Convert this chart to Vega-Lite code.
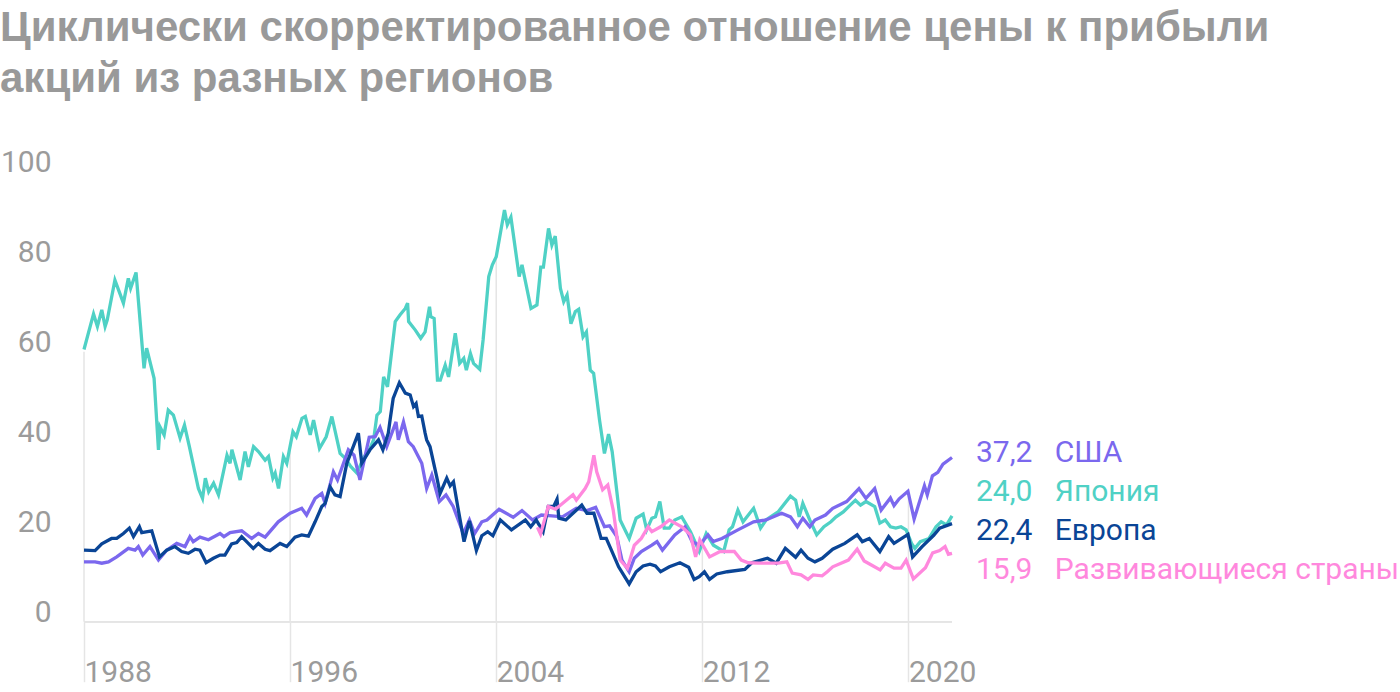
{
  "$schema": "https://vega.github.io/schema/vega-lite/v6.json",
  "width": 868,
  "height": 450,
  "autosize": "none",
  "padding": {"left": 84, "top": 171.7, "right": 448, "bottom": 70.3},
  "background": "white",
  "title": {
    "text": ["Циклически скорректированное отношение цены к прибыли", "акций из разных регионов"],
    "anchor": "start",
    "frame": "group",
    "dx": -84,
    "offset": 47,
    "font": "Liberation Sans",
    "fontSize": 42,
    "fontWeight": "bold",
    "color": "#999999",
    "lineHeight": 51
  },
  "config": {"view": {"stroke": null}},
  "data": {"values": [
    {"series": "Япония", "year": 1988.0, "value": 60.5},
    {"series": "Япония", "year": 1988.37, "value": 68.4},
    {"series": "Япония", "year": 1988.52, "value": 65.6},
    {"series": "Япония", "year": 1988.69, "value": 69.3},
    {"series": "Япония", "year": 1988.82, "value": 65.6},
    {"series": "Япония", "year": 1988.9, "value": 67},
    {"series": "Япония", "year": 1989.2, "value": 75.9},
    {"series": "Япония", "year": 1989.53, "value": 70.8},
    {"series": "Япония", "year": 1989.72, "value": 76.3},
    {"series": "Япония", "year": 1989.81, "value": 74.1},
    {"series": "Япония", "year": 1990.02, "value": 77.6},
    {"series": "Япония", "year": 1990.33, "value": 56.3},
    {"series": "Япония", "year": 1990.43, "value": 60.8},
    {"series": "Япония", "year": 1990.72, "value": 54.1},
    {"series": "Япония", "year": 1990.89, "value": 38.2},
    {"series": "Япония", "year": 1990.95, "value": 43.3},
    {"series": "Япония", "year": 1991.11, "value": 41.5},
    {"series": "Япония", "year": 1991.27, "value": 47},
    {"series": "Япония", "year": 1991.47, "value": 45.9},
    {"series": "Япония", "year": 1991.73, "value": 40.8},
    {"series": "Япония", "year": 1991.9, "value": 43.7},
    {"series": "Япония", "year": 1992.09, "value": 38.9},
    {"series": "Япония", "year": 1992.44, "value": 29.6},
    {"series": "Япония", "year": 1992.6, "value": 27.4},
    {"series": "Япония", "year": 1992.71, "value": 31.9},
    {"series": "Япония", "year": 1992.84, "value": 28.9},
    {"series": "Япония", "year": 1993.03, "value": 30.8},
    {"series": "Япония", "year": 1993.22, "value": 28.2},
    {"series": "Япония", "year": 1993.55, "value": 37},
    {"series": "Япония", "year": 1993.67, "value": 35.2},
    {"series": "Япония", "year": 1993.74, "value": 38.2},
    {"series": "Япония", "year": 1994.06, "value": 31.5},
    {"series": "Япония", "year": 1994.25, "value": 37.8},
    {"series": "Япония", "year": 1994.38, "value": 34.4},
    {"series": "Япония", "year": 1994.58, "value": 38.9},
    {"series": "Япония", "year": 1994.77, "value": 37.8},
    {"series": "Япония", "year": 1995.03, "value": 35.9},
    {"series": "Япония", "year": 1995.16, "value": 36.7},
    {"series": "Япония", "year": 1995.33, "value": 31.9},
    {"series": "Япония", "year": 1995.42, "value": 33},
    {"series": "Япония", "year": 1995.55, "value": 29.6},
    {"series": "Япония", "year": 1995.74, "value": 36.7},
    {"series": "Япония", "year": 1995.87, "value": 35.2},
    {"series": "Япония", "year": 1996.11, "value": 42.2},
    {"series": "Япония", "year": 1996.24, "value": 41.1},
    {"series": "Япония", "year": 1996.46, "value": 45.2},
    {"series": "Япония", "year": 1996.59, "value": 45.6},
    {"series": "Япония", "year": 1996.78, "value": 41.5},
    {"series": "Япония", "year": 1996.91, "value": 44.8},
    {"series": "Япония", "year": 1997.14, "value": 38.5},
    {"series": "Япония", "year": 1997.4, "value": 41.1},
    {"series": "Япония", "year": 1997.62, "value": 45.6},
    {"series": "Япония", "year": 1997.94, "value": 37.4},
    {"series": "Япония", "year": 1998.14, "value": 36.3},
    {"series": "Япония", "year": 1998.35, "value": 34.5},
    {"series": "Япония", "year": 1998.6, "value": 33},
    {"series": "Япония", "year": 1998.85, "value": 36.5},
    {"series": "Япония", "year": 1999.1, "value": 38.5},
    {"series": "Япония", "year": 1999.24, "value": 40.4},
    {"series": "Япония", "year": 1999.37, "value": 45.9},
    {"series": "Япония", "year": 1999.5, "value": 46.7},
    {"series": "Япония", "year": 1999.63, "value": 54.4},
    {"series": "Япония", "year": 1999.78, "value": 52.2},
    {"series": "Япония", "year": 2000.08, "value": 66.7},
    {"series": "Япония", "year": 2000.27, "value": 68.2},
    {"series": "Япония", "year": 2000.47, "value": 69.6},
    {"series": "Япония", "year": 2000.56, "value": 70.8},
    {"series": "Япония", "year": 2000.6, "value": 66.7},
    {"series": "Япония", "year": 2000.86, "value": 64.8},
    {"series": "Япония", "year": 2001.07, "value": 63},
    {"series": "Япония", "year": 2001.24, "value": 64.4},
    {"series": "Япония", "year": 2001.41, "value": 70},
    {"series": "Япония", "year": 2001.46, "value": 67.8},
    {"series": "Япония", "year": 2001.59, "value": 67.4},
    {"series": "Япония", "year": 2001.72, "value": 53.7},
    {"series": "Япония", "year": 2001.83, "value": 53.7},
    {"series": "Япония", "year": 2002.02, "value": 57},
    {"series": "Япония", "year": 2002.15, "value": 54.4},
    {"series": "Япония", "year": 2002.41, "value": 64.1},
    {"series": "Япония", "year": 2002.58, "value": 57.4},
    {"series": "Япония", "year": 2002.74, "value": 58.5},
    {"series": "Япония", "year": 2002.84, "value": 55.9},
    {"series": "Япония", "year": 2003.0, "value": 59.6},
    {"series": "Япония", "year": 2003.12, "value": 57.4},
    {"series": "Япония", "year": 2003.36, "value": 56.1},
    {"series": "Япония", "year": 2003.49, "value": 62.6},
    {"series": "Япония", "year": 2003.71, "value": 76.7},
    {"series": "Япония", "year": 2003.85, "value": 79.3},
    {"series": "Япония", "year": 2004.0, "value": 81.1},
    {"series": "Япония", "year": 2004.32, "value": 91.5},
    {"series": "Япония", "year": 2004.43, "value": 88.2},
    {"series": "Япония", "year": 2004.57, "value": 89.9},
    {"series": "Япония", "year": 2004.89, "value": 76.7},
    {"series": "Япония", "year": 2005.0, "value": 79.3},
    {"series": "Япония", "year": 2005.35, "value": 69.6},
    {"series": "Япония", "year": 2005.58, "value": 70.4},
    {"series": "Япония", "year": 2005.73, "value": 78.8},
    {"series": "Япония", "year": 2005.83, "value": 78.8},
    {"series": "Япония", "year": 2006.03, "value": 87.4},
    {"series": "Япония", "year": 2006.16, "value": 83.7},
    {"series": "Япония", "year": 2006.29, "value": 85.7},
    {"series": "Япония", "year": 2006.49, "value": 74.1},
    {"series": "Япония", "year": 2006.62, "value": 71.1},
    {"series": "Япония", "year": 2006.75, "value": 72.6},
    {"series": "Япония", "year": 2006.9, "value": 66.2},
    {"series": "Япония", "year": 2007.07, "value": 68.9},
    {"series": "Япония", "year": 2007.2, "value": 69.4},
    {"series": "Япония", "year": 2007.37, "value": 63.3},
    {"series": "Япония", "year": 2007.5, "value": 64.4},
    {"series": "Япония", "year": 2007.65, "value": 55.9},
    {"series": "Япония", "year": 2007.78, "value": 55.2},
    {"series": "Япония", "year": 2008.01, "value": 44.8},
    {"series": "Япония", "year": 2008.2, "value": 37.4},
    {"series": "Япония", "year": 2008.36, "value": 41.7},
    {"series": "Япония", "year": 2008.5, "value": 37.8},
    {"series": "Япония", "year": 2008.81, "value": 22.6},
    {"series": "Япония", "year": 2009.16, "value": 18.5},
    {"series": "Япония", "year": 2009.43, "value": 23},
    {"series": "Япония", "year": 2009.7, "value": 23.9},
    {"series": "Япония", "year": 2009.84, "value": 20.4},
    {"series": "Япония", "year": 2010.04, "value": 23},
    {"series": "Япония", "year": 2010.18, "value": 23.3},
    {"series": "Япония", "year": 2010.35, "value": 26.7},
    {"series": "Япония", "year": 2010.52, "value": 20.8},
    {"series": "Япония", "year": 2010.72, "value": 20.8},
    {"series": "Япония", "year": 2010.93, "value": 22.6},
    {"series": "Япония", "year": 2011.2, "value": 23.3},
    {"series": "Япония", "year": 2011.54, "value": 20},
    {"series": "Япония", "year": 2011.88, "value": 15.6},
    {"series": "Япония", "year": 2012.15, "value": 19.6},
    {"series": "Япония", "year": 2012.43, "value": 17},
    {"series": "Япония", "year": 2012.83, "value": 15.6},
    {"series": "Япония", "year": 2013.04, "value": 20.4},
    {"series": "Япония", "year": 2013.17, "value": 21.1},
    {"series": "Япония", "year": 2013.38, "value": 24.8},
    {"series": "Япония", "year": 2013.58, "value": 22.2},
    {"series": "Япония", "year": 2013.99, "value": 25.2},
    {"series": "Япония", "year": 2014.26, "value": 20.8},
    {"series": "Япония", "year": 2014.47, "value": 22.6},
    {"series": "Япония", "year": 2014.94, "value": 24.4},
    {"series": "Япония", "year": 2015.42, "value": 27.9},
    {"series": "Япония", "year": 2015.62, "value": 27},
    {"series": "Япония", "year": 2015.76, "value": 23.3},
    {"series": "Япония", "year": 2015.9, "value": 26.3},
    {"series": "Япония", "year": 2016.17, "value": 22.6},
    {"series": "Япония", "year": 2016.44, "value": 19.3},
    {"series": "Япония", "year": 2016.72, "value": 21.1},
    {"series": "Япония", "year": 2016.99, "value": 22.2},
    {"series": "Япония", "year": 2017.19, "value": 23.3},
    {"series": "Япония", "year": 2017.47, "value": 24.4},
    {"series": "Япония", "year": 2017.74, "value": 25.9},
    {"series": "Япония", "year": 2017.94, "value": 27},
    {"series": "Япония", "year": 2018.14, "value": 25.9},
    {"series": "Япония", "year": 2018.35, "value": 26.7},
    {"series": "Япония", "year": 2018.69, "value": 25.6},
    {"series": "Япония", "year": 2018.89, "value": 21.9},
    {"series": "Япония", "year": 2019.1, "value": 22.6},
    {"series": "Япония", "year": 2019.3, "value": 21.1},
    {"series": "Япония", "year": 2019.51, "value": 20.8},
    {"series": "Япония", "year": 2019.71, "value": 21.1},
    {"series": "Япония", "year": 2019.91, "value": 20.4},
    {"series": "Япония", "year": 2020.12, "value": 17.4},
    {"series": "Япония", "year": 2020.25, "value": 16.3},
    {"series": "Япония", "year": 2020.46, "value": 17.8},
    {"series": "Япония", "year": 2020.8, "value": 18.5},
    {"series": "Япония", "year": 2021.07, "value": 21.1},
    {"series": "Япония", "year": 2021.27, "value": 22.2},
    {"series": "Япония", "year": 2021.48, "value": 21.5},
    {"series": "Япония", "year": 2021.69, "value": 23.5},

    {"series": "США", "year": 1988.0, "value": 13.3},
    {"series": "США", "year": 1988.43, "value": 13.3},
    {"series": "США", "year": 1988.69, "value": 13},
    {"series": "США", "year": 1988.95, "value": 13.3},
    {"series": "США", "year": 1989.27, "value": 14.4},
    {"series": "США", "year": 1989.72, "value": 16.3},
    {"series": "США", "year": 1989.98, "value": 15.9},
    {"series": "США", "year": 1990.11, "value": 16.7},
    {"series": "США", "year": 1990.28, "value": 14.8},
    {"series": "США", "year": 1990.56, "value": 16.7},
    {"series": "США", "year": 1990.89, "value": 13.7},
    {"series": "США", "year": 1991.21, "value": 15.9},
    {"series": "США", "year": 1991.6, "value": 17.4},
    {"series": "США", "year": 1991.92, "value": 16.7},
    {"series": "США", "year": 1992.11, "value": 18.9},
    {"series": "США", "year": 1992.24, "value": 17.8},
    {"series": "США", "year": 1992.5, "value": 18.8},
    {"series": "США", "year": 1992.83, "value": 18.2},
    {"series": "США", "year": 1993.28, "value": 19.6},
    {"series": "США", "year": 1993.43, "value": 18.9},
    {"series": "США", "year": 1993.67, "value": 19.8},
    {"series": "США", "year": 1994.12, "value": 20.2},
    {"series": "США", "year": 1994.51, "value": 18.5},
    {"series": "США", "year": 1994.77, "value": 19.6},
    {"series": "США", "year": 1995.03, "value": 18.8},
    {"series": "США", "year": 1995.54, "value": 22.2},
    {"series": "США", "year": 1996.0, "value": 24.1},
    {"series": "США", "year": 1996.45, "value": 25.2},
    {"series": "США", "year": 1996.64, "value": 23.7},
    {"series": "США", "year": 1996.97, "value": 27.4},
    {"series": "США", "year": 1997.23, "value": 28.5},
    {"series": "США", "year": 1997.36, "value": 26.3},
    {"series": "США", "year": 1997.68, "value": 33.3},
    {"series": "США", "year": 1997.84, "value": 31.5},
    {"series": "США", "year": 1998.26, "value": 38.2},
    {"series": "США", "year": 1998.48, "value": 37},
    {"series": "США", "year": 1998.71, "value": 31.5},
    {"series": "США", "year": 1999.07, "value": 41},
    {"series": "США", "year": 1999.3, "value": 41.1},
    {"series": "США", "year": 1999.49, "value": 43.2},
    {"series": "США", "year": 1999.75, "value": 38.9},
    {"series": "США", "year": 2000.11, "value": 44.4},
    {"series": "США", "year": 2000.2, "value": 40.4},
    {"series": "США", "year": 2000.4, "value": 44.4},
    {"series": "США", "year": 2000.59, "value": 40},
    {"series": "США", "year": 2000.78, "value": 38.9},
    {"series": "США", "year": 2001.11, "value": 35.2},
    {"series": "США", "year": 2001.3, "value": 29.6},
    {"series": "США", "year": 2001.5, "value": 32.6},
    {"series": "США", "year": 2001.79, "value": 26.7},
    {"series": "США", "year": 2002.05, "value": 28.2},
    {"series": "США", "year": 2002.33, "value": 25.6},
    {"series": "США", "year": 2002.72, "value": 19.6},
    {"series": "США", "year": 2002.96, "value": 22.6},
    {"series": "США", "year": 2003.16, "value": 19.6},
    {"series": "США", "year": 2003.44, "value": 22.2},
    {"series": "США", "year": 2003.64, "value": 22.6},
    {"series": "США", "year": 2004.11, "value": 25},
    {"series": "США", "year": 2004.66, "value": 23.2},
    {"series": "США", "year": 2005.0, "value": 24.7},
    {"series": "США", "year": 2005.41, "value": 22.6},
    {"series": "США", "year": 2005.75, "value": 23.7},
    {"series": "США", "year": 2006.16, "value": 23.5},
    {"series": "США", "year": 2006.57, "value": 23.3},
    {"series": "США", "year": 2007.11, "value": 25.2},
    {"series": "США", "year": 2007.52, "value": 24.7},
    {"series": "США", "year": 2007.86, "value": 25.4},
    {"series": "США", "year": 2008.2, "value": 21.1},
    {"series": "США", "year": 2008.4, "value": 21.3},
    {"series": "США", "year": 2008.68, "value": 18.9},
    {"series": "США", "year": 2008.88, "value": 13.7},
    {"series": "США", "year": 2009.16, "value": 11.1},
    {"series": "США", "year": 2009.36, "value": 14.1},
    {"series": "США", "year": 2009.63, "value": 15.6},
    {"series": "США", "year": 2010.04, "value": 17},
    {"series": "США", "year": 2010.24, "value": 17.8},
    {"series": "США", "year": 2010.45, "value": 15.9},
    {"series": "США", "year": 2010.93, "value": 19.3},
    {"series": "США", "year": 2011.33, "value": 21.1},
    {"series": "США", "year": 2011.6, "value": 17.8},
    {"series": "США", "year": 2011.88, "value": 17},
    {"series": "США", "year": 2012.22, "value": 19.3},
    {"series": "США", "year": 2012.42, "value": 17.8},
    {"series": "США", "year": 2012.76, "value": 18.5},
    {"series": "США", "year": 2013.38, "value": 20.4},
    {"series": "США", "year": 2013.99, "value": 22.2},
    {"series": "США", "year": 2014.47, "value": 22.6},
    {"series": "США", "year": 2015.08, "value": 24.1},
    {"series": "США", "year": 2015.42, "value": 23.3},
    {"series": "США", "year": 2015.69, "value": 21.1},
    {"series": "США", "year": 2015.9, "value": 23},
    {"series": "США", "year": 2016.17, "value": 21.1},
    {"series": "США", "year": 2016.37, "value": 22.6},
    {"series": "США", "year": 2016.78, "value": 23.7},
    {"series": "США", "year": 2017.06, "value": 25.2},
    {"series": "США", "year": 2017.6, "value": 26.7},
    {"series": "США", "year": 2018.08, "value": 29.6},
    {"series": "США", "year": 2018.35, "value": 27.4},
    {"series": "США", "year": 2018.69, "value": 29.6},
    {"series": "США", "year": 2018.94, "value": 24.8},
    {"series": "США", "year": 2019.3, "value": 27.5},
    {"series": "США", "year": 2019.44, "value": 25.8},
    {"series": "США", "year": 2019.64, "value": 27.3},
    {"series": "США", "year": 2019.98, "value": 29},
    {"series": "США", "year": 2020.22, "value": 22.8},
    {"series": "США", "year": 2020.62, "value": 30.2},
    {"series": "США", "year": 2020.73, "value": 28.2},
    {"series": "США", "year": 2020.93, "value": 32.4},
    {"series": "США", "year": 2021.14, "value": 33.2},
    {"series": "США", "year": 2021.34, "value": 35},
    {"series": "США", "year": 2021.69, "value": 36.5},

    {"series": "Европа", "year": 1988.0, "value": 15.9},
    {"series": "Европа", "year": 1988.43, "value": 15.8},
    {"series": "Европа", "year": 1988.69, "value": 17.3},
    {"series": "Европа", "year": 1989.07, "value": 18.5},
    {"series": "Европа", "year": 1989.27, "value": 18.5},
    {"series": "Европа", "year": 1989.53, "value": 19.6},
    {"series": "Европа", "year": 1989.76, "value": 20.8},
    {"series": "Европа", "year": 1989.92, "value": 18.9},
    {"series": "Европа", "year": 1990.15, "value": 21.1},
    {"series": "Европа", "year": 1990.24, "value": 19.8},
    {"series": "Европа", "year": 1990.63, "value": 20.2},
    {"series": "Европа", "year": 1990.93, "value": 14.4},
    {"series": "Европа", "year": 1991.21, "value": 15.9},
    {"series": "Европа", "year": 1991.53, "value": 16.7},
    {"series": "Европа", "year": 1991.79, "value": 15.6},
    {"series": "Европа", "year": 1992.05, "value": 15.2},
    {"series": "Европа", "year": 1992.31, "value": 16.1},
    {"series": "Европа", "year": 1992.5, "value": 15.9},
    {"series": "Европа", "year": 1992.74, "value": 13.1},
    {"series": "Европа", "year": 1993.02, "value": 14.1},
    {"series": "Европа", "year": 1993.28, "value": 14.8},
    {"series": "Европа", "year": 1993.47, "value": 14.8},
    {"series": "Европа", "year": 1993.73, "value": 17.3},
    {"series": "Европа", "year": 1993.93, "value": 17.6},
    {"series": "Европа", "year": 1994.12, "value": 18.9},
    {"series": "Европа", "year": 1994.57, "value": 16.3},
    {"series": "Европа", "year": 1994.77, "value": 17.4},
    {"series": "Европа", "year": 1995.03, "value": 16.1},
    {"series": "Европа", "year": 1995.22, "value": 15.8},
    {"series": "Европа", "year": 1995.61, "value": 17.4},
    {"series": "Европа", "year": 1995.87, "value": 16.7},
    {"series": "Европа", "year": 1996.19, "value": 18.8},
    {"series": "Европа", "year": 1996.45, "value": 19.3},
    {"series": "Европа", "year": 1996.71, "value": 19},
    {"series": "Европа", "year": 1996.97, "value": 22.2},
    {"series": "Европа", "year": 1997.23, "value": 25.6},
    {"series": "Европа", "year": 1997.36, "value": 26.3},
    {"series": "Европа", "year": 1997.55, "value": 30},
    {"series": "Европа", "year": 1997.74, "value": 28.2},
    {"series": "Европа", "year": 1997.94, "value": 27.8},
    {"series": "Европа", "year": 1998.2, "value": 35.2},
    {"series": "Европа", "year": 1998.45, "value": 38.9},
    {"series": "Европа", "year": 1998.65, "value": 41.9},
    {"series": "Европа", "year": 1998.78, "value": 35.2},
    {"series": "Европа", "year": 1999.1, "value": 38.2},
    {"series": "Европа", "year": 1999.43, "value": 40.4},
    {"series": "Европа", "year": 1999.6, "value": 38.2},
    {"series": "Европа", "year": 1999.81, "value": 41.9},
    {"series": "Европа", "year": 1999.88, "value": 44.8},
    {"series": "Европа", "year": 2000.0, "value": 49.6},
    {"series": "Европа", "year": 2000.24, "value": 53.1},
    {"series": "Европа", "year": 2000.47, "value": 50.8},
    {"series": "Европа", "year": 2000.66, "value": 50.4},
    {"series": "Европа", "year": 2000.79, "value": 47.8},
    {"series": "Европа", "year": 2000.89, "value": 48.5},
    {"series": "Европа", "year": 2000.98, "value": 45.6},
    {"series": "Европа", "year": 2001.11, "value": 45.7},
    {"series": "Европа", "year": 2001.24, "value": 41.9},
    {"series": "Европа", "year": 2001.3, "value": 40.4},
    {"series": "Европа", "year": 2001.43, "value": 38.9},
    {"series": "Европа", "year": 2001.69, "value": 32.2},
    {"series": "Европа", "year": 2001.82, "value": 28.5},
    {"series": "Европа", "year": 2002.08, "value": 31.9},
    {"series": "Европа", "year": 2002.21, "value": 30.2},
    {"series": "Европа", "year": 2002.34, "value": 31.1},
    {"series": "Европа", "year": 2002.53, "value": 24.8},
    {"series": "Европа", "year": 2002.75, "value": 17.8},
    {"series": "Европа", "year": 2002.96, "value": 22.4},
    {"series": "Европа", "year": 2003.23, "value": 15.8},
    {"series": "Европа", "year": 2003.44, "value": 19.1},
    {"series": "Европа", "year": 2003.67, "value": 20},
    {"series": "Европа", "year": 2003.87, "value": 19.1},
    {"series": "Европа", "year": 2004.16, "value": 22.6},
    {"series": "Европа", "year": 2004.59, "value": 20.4},
    {"series": "Европа", "year": 2005.13, "value": 22.6},
    {"series": "Европа", "year": 2005.34, "value": 21.1},
    {"series": "Европа", "year": 2005.55, "value": 22.6},
    {"series": "Европа", "year": 2005.82, "value": 20},
    {"series": "Европа", "year": 2006.02, "value": 25.6},
    {"series": "Европа", "year": 2006.23, "value": 25.6},
    {"series": "Европа", "year": 2006.36, "value": 27.2},
    {"series": "Европа", "year": 2006.43, "value": 23},
    {"series": "Европа", "year": 2006.7, "value": 22.6},
    {"series": "Европа", "year": 2007.32, "value": 25.9},
    {"series": "Европа", "year": 2007.52, "value": 24.1},
    {"series": "Европа", "year": 2007.79, "value": 24.1},
    {"series": "Европа", "year": 2008.07, "value": 18.5},
    {"series": "Европа", "year": 2008.27, "value": 18.5},
    {"series": "Европа", "year": 2008.47, "value": 15.9},
    {"series": "Европа", "year": 2008.75, "value": 12.2},
    {"series": "Европа", "year": 2009.16, "value": 8.4},
    {"series": "Европа", "year": 2009.43, "value": 11.1},
    {"series": "Европа", "year": 2009.7, "value": 12.4},
    {"series": "Европа", "year": 2009.97, "value": 12.8},
    {"series": "Европа", "year": 2010.18, "value": 12.4},
    {"series": "Европа", "year": 2010.38, "value": 11.1},
    {"series": "Европа", "year": 2010.72, "value": 12.2},
    {"series": "Европа", "year": 2011.13, "value": 13.1},
    {"series": "Европа", "year": 2011.47, "value": 12.1},
    {"series": "Европа", "year": 2011.68, "value": 9.4},
    {"series": "Европа", "year": 2011.88, "value": 10},
    {"series": "Европа", "year": 2012.08, "value": 11.1},
    {"series": "Европа", "year": 2012.28, "value": 9.4},
    {"series": "Европа", "year": 2012.56, "value": 10.6},
    {"series": "Европа", "year": 2012.97, "value": 11.1},
    {"series": "Европа", "year": 2013.65, "value": 11.6},
    {"series": "Европа", "year": 2013.92, "value": 13.1},
    {"series": "Европа", "year": 2014.53, "value": 14.1},
    {"series": "Европа", "year": 2014.87, "value": 13},
    {"series": "Европа", "year": 2015.22, "value": 16.3},
    {"series": "Европа", "year": 2015.62, "value": 14.3},
    {"series": "Европа", "year": 2015.83, "value": 15.9},
    {"series": "Европа", "year": 2016.1, "value": 14.1},
    {"series": "Европа", "year": 2016.37, "value": 13.3},
    {"series": "Европа", "year": 2016.65, "value": 14.1},
    {"series": "Европа", "year": 2017.06, "value": 16.1},
    {"series": "Европа", "year": 2017.53, "value": 17.4},
    {"series": "Европа", "year": 2018.01, "value": 19.3},
    {"series": "Европа", "year": 2018.21, "value": 17.8},
    {"series": "Европа", "year": 2018.48, "value": 18.5},
    {"series": "Европа", "year": 2018.89, "value": 15.6},
    {"series": "Европа", "year": 2019.23, "value": 18.9},
    {"series": "Европа", "year": 2019.44, "value": 17.4},
    {"series": "Европа", "year": 2019.98, "value": 19.4},
    {"series": "Европа", "year": 2020.16, "value": 14.4},
    {"series": "Европа", "year": 2020.53, "value": 16.7},
    {"series": "Европа", "year": 2020.98, "value": 19.2},
    {"series": "Европа", "year": 2021.21, "value": 20.8},
    {"series": "Европа", "year": 2021.69, "value": 21.8},

    {"series": "Развивающиеся страны", "year": 2005.6, "value": 21},
    {"series": "Развивающиеся страны", "year": 2005.72, "value": 19.5},
    {"series": "Развивающиеся страны", "year": 2006.02, "value": 25.6},
    {"series": "Развивающиеся страны", "year": 2006.3, "value": 25},
    {"series": "Развивающиеся страны", "year": 2006.98, "value": 28.2},
    {"series": "Развивающиеся страны", "year": 2007.11, "value": 27},
    {"series": "Развивающиеся страны", "year": 2007.45, "value": 29.6},
    {"series": "Развивающиеся страны", "year": 2007.59, "value": 31.1},
    {"series": "Развивающиеся страны", "year": 2007.79, "value": 37},
    {"series": "Развивающиеся страны", "year": 2007.9, "value": 33.3},
    {"series": "Развивающиеся страны", "year": 2008.13, "value": 29.3},
    {"series": "Развивающиеся страны", "year": 2008.33, "value": 30.4},
    {"series": "Развивающиеся страны", "year": 2008.54, "value": 24.8},
    {"series": "Развивающиеся страны", "year": 2008.81, "value": 13.7},
    {"series": "Развивающиеся страны", "year": 2009.09, "value": 11.9},
    {"series": "Развивающиеся страны", "year": 2009.36, "value": 17},
    {"series": "Развивающиеся страны", "year": 2009.63, "value": 18.5},
    {"series": "Развивающиеся страны", "year": 2009.9, "value": 21.1},
    {"series": "Развивающиеся страны", "year": 2010.04, "value": 20},
    {"series": "Развивающиеся страны", "year": 2010.38, "value": 21.1},
    {"series": "Развивающиеся страны", "year": 2010.72, "value": 22.6},
    {"series": "Развивающиеся страны", "year": 2011.2, "value": 21.1},
    {"series": "Развивающиеся страны", "year": 2011.54, "value": 19.3},
    {"series": "Развивающиеся страны", "year": 2011.74, "value": 14.4},
    {"series": "Развивающиеся страны", "year": 2011.9, "value": 18.2},
    {"series": "Развивающиеся страны", "year": 2012.28, "value": 14.4},
    {"series": "Развивающиеся страны", "year": 2012.69, "value": 15.6},
    {"series": "Развивающиеся страны", "year": 2013.24, "value": 15.6},
    {"series": "Развивающиеся страны", "year": 2013.51, "value": 13.7},
    {"series": "Развивающиеся страны", "year": 2013.78, "value": 13.1},
    {"series": "Развивающиеся страны", "year": 2014.19, "value": 13},
    {"series": "Развивающиеся страны", "year": 2014.94, "value": 13},
    {"series": "Развивающиеся страны", "year": 2015.28, "value": 13.3},
    {"series": "Развивающиеся страны", "year": 2015.49, "value": 10.8},
    {"series": "Развивающиеся страны", "year": 2015.83, "value": 10.4},
    {"series": "Развивающиеся страны", "year": 2016.1, "value": 9.4},
    {"series": "Развивающиеся страны", "year": 2016.3, "value": 10.4},
    {"series": "Развивающиеся страны", "year": 2016.65, "value": 10.2},
    {"series": "Развивающиеся страны", "year": 2016.85, "value": 11.1},
    {"series": "Развивающиеся страны", "year": 2017.06, "value": 12.2},
    {"series": "Развивающиеся страны", "year": 2017.67, "value": 13.7},
    {"series": "Развивающиеся страны", "year": 2018.01, "value": 16.1},
    {"series": "Развивающиеся страны", "year": 2018.28, "value": 13.5},
    {"series": "Развивающиеся страны", "year": 2018.56, "value": 12.6},
    {"series": "Развивающиеся страны", "year": 2018.9, "value": 11.5},
    {"series": "Развивающиеся страны", "year": 2019.1, "value": 13},
    {"series": "Развивающиеся страны", "year": 2019.44, "value": 11.9},
    {"series": "Развивающиеся страны", "year": 2019.71, "value": 11.9},
    {"series": "Развивающиеся страны", "year": 2019.91, "value": 13.7},
    {"series": "Развивающиеся страны", "year": 2020.19, "value": 9.5},
    {"series": "Развивающиеся страны", "year": 2020.66, "value": 12},
    {"series": "Развивающиеся страны", "year": 2020.94, "value": 15.3},
    {"series": "Развивающиеся страны", "year": 2021.21, "value": 15.8},
    {"series": "Развивающиеся страны", "year": 2021.42, "value": 16.7},
    {"series": "Развивающиеся страны", "year": 2021.55, "value": 15},
    {"series": "Развивающиеся страны", "year": 2021.69, "value": 15.2}
  ]},
  "layer": [
    {
      "data": {"values": [
        {"year": 1988, "top": 60},
        {"year": 1996, "top": 38.5},
        {"year": 2004, "top": 80.5},
        {"year": 2012, "top": 17.5},
        {"year": 2020, "top": 28.5}
      ]},
      "mark": {"type": "rule", "color": "#e5e5e5", "strokeWidth": 1.5},
      "encoding": {
        "x": {"field": "year", "type": "quantitative"},
        "y": {"field": "top", "type": "quantitative"},
        "y2": {"datum": 0}
      }
    },
    {
      "mark": {"type": "rule", "color": "#e5e5e5", "strokeWidth": 1.5},
      "encoding": {"y": {"datum": 0}}
    },
    {
      "mark": {"type": "line", "strokeWidth": 3.3, "strokeJoin": "miter", "interpolate": "linear"},
      "encoding": {
        "x": {
          "field": "year", "type": "quantitative",
          "scale": {"domain": [1988, 2021.69], "nice": false, "zero": false},
          "axis": {
            "title": null, "values": [1988, 1996, 2004, 2012, 2020], "format": "d",
            "domain": false, "grid": false, "ticks": true, "tickSize": 60,
            "tickColor": "#e5e5e5", "tickWidth": 1.5,
            "labelAlign": "left", "labelBaseline": "alphabetic", "labelPadding": 0, "labelDx": 9,
            "labelFont": "Roboto", "labelFontSize": 30, "labelColor": "#9b9b9b",
            "labelOverlap": false, "labelFlush": false, "labelBound": false
          }
        },
        "y": {
          "field": "value", "type": "quantitative",
          "scale": {"domain": [0, 100], "nice": false},
          "axis": {
            "title": null, "values": [0, 20, 40, 60, 80, 100],
            "domain": false, "grid": false, "ticks": false,
            "labelPadding": 33, "labelBaseline": "alphabetic",
            "labelFont": "Roboto", "labelFontSize": 30, "labelColor": "#9b9b9b"
          }
        },
        "color": {
          "field": "series", "type": "nominal",
          "scale": {
            "domain": ["США", "Япония", "Европа", "Развивающиеся страны"],
            "range": ["#7b68ee", "#4fd1c5", "#0a4596", "#ff88dd"]
          },
          "legend": {
            "orient": "none", "legendX": 862, "legendY": 266,
            "title": null, "symbolSize": 0, "symbolOpacity": 0, "symbolStrokeWidth": 0,
            "labelOffset": 0, "labelFont": "Roboto", "labelFontSize": 30, "labelLimit": 600,
            "rowPadding": 9,
            "labelExpr": "datum.label == 'США' ? '37,2\u00a0\u00a0\u00a0США' : datum.label == 'Япония' ? '24,0\u00a0\u00a0\u00a0Япония' : datum.label == 'Европа' ? '22,4\u00a0\u00a0\u00a0Европа' : '15,9\u00a0\u00a0\u00a0Развивающиеся страны'",
            "encode": {"labels": {"update": {"fill": {"scale": "color", "field": "value"}}}}
          }
        }
      }
    }
  ]
}
